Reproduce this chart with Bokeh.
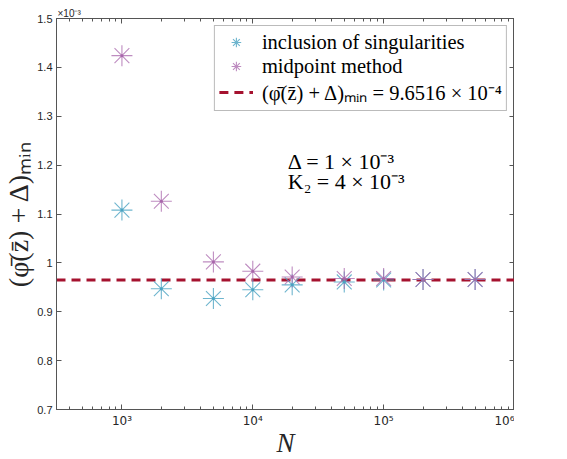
import numpy as np
from bokeh.plotting import figure
from bokeh.models import (LogAxis, LinearAxis, FixedTicker, Label, Title,
                          Legend, LegendItem, Range1d)
from bokeh.embed import file_html
from bokeh.resources import INLINE

# ---- data (values in units of 1e-3) ----
N = [1e3, 2e3, 5e3, 1e4, 2e4, 5e4, 1e5, 2e5, 5e5]
inclusion = [1.108, 0.947, 0.927, 0.945, 0.955, 0.961, 0.965, 0.966, 0.966]
midpoint = [1.424, 1.126, 1.002, 0.983, 0.971, 0.968, 0.968, 0.966, 0.966]
phi_min = 0.96516

x_limits = [10 ** 2.5, 1e6]
y_limits = [0.7, 1.5]
y_ticks = [0.7, 0.8, 0.9, 1.0, 1.1, 1.2, 1.3, 1.4, 1.5]
y_tick_labels = ["0.7", "0.8", "0.9", "1", "1.1", "1.2", "1.3", "1.4", "1.5"]
x_ticks = [1e3, 1e4, 1e5, 1e6]
x_tick_labels = ["10\u00b3", "10\u2074", "10\u2075", "10\u2076"]
x_minor = [m * 10 ** e for e in range(2, 6) for m in range(2, 10)]

legend_labels = ["inclusion of singularities", "midpoint method",
                 "(\u03c6\u0304(z\u0304) + \u0394)\u2098\u1d62\u2099 = 9.6516 \u00d7 10\u207b\u2074"]
y_label = "(\u03c6\u0304(z\u0304) + \u0394)\u2098\u1d62\u2099"
x_label = "N"
annot1 = "\u0394 = 1 \u00d7 10\u207b\u00b3"
annot2 = "K\u2082 = 4 \u00d7 10\u207b\u00b3"
scale_label = "\u00d710\u207b\u00b3"

CYAN = "#4aa3c2"
MAGENTA = "#a866ab"
DARKRED = "#a5122f"
AXCOL = "#555555"
TXT = "#262626"

p = figure(frame_width=458, frame_height=391,
           x_axis_type="log", output_backend="svg", toolbar_location=None,
           x_range=Range1d(*x_limits), y_range=Range1d(*y_limits),
           min_border_left=49, min_border_top=0, min_border_right=0, min_border_bottom=0,
           margin=(5, 0, 0, 0))
p.background_fill_color = "white"
p.border_fill_color = "white"
p.outline_line_color = AXCOL
p.xgrid.visible = False
p.ygrid.visible = False

r_line = p.line(x_limits, [phi_min, phi_min], line_color=DARKRED, line_width=3,
                line_dash="9 6")
r_inc = p.scatter(N, inclusion, marker="asterisk", size=21, line_color=CYAN,
                  line_width=1.1, line_alpha=0.8)
r_mid = p.scatter(N, midpoint, marker="asterisk", size=21, line_color=MAGENTA,
                  line_width=1.1, line_alpha=0.75)
p.scatter(N, inclusion, marker="circle", size=3, fill_color=CYAN, line_color=None)
p.scatter(N, midpoint, marker="circle", size=3, fill_color=MAGENTA, line_color=None)

def style_axis(ax):
    ax.axis_line_color = AXCOL
    ax.major_tick_line_color = AXCOL
    ax.minor_tick_line_color = AXCOL
    ax.major_tick_in = 5
    ax.major_tick_out = 0
    ax.minor_tick_in = 3
    ax.minor_tick_out = 0
    ax.major_label_text_font = "Liberation Sans"
    ax.major_label_text_font_size = "11px"
    ax.major_label_text_color = TXT

# bottom axis
xa = p.xaxis[0]
xa.ticker = FixedTicker(ticks=x_ticks, minor_ticks=x_minor)
xa.major_label_overrides = dict(zip(x_ticks, x_tick_labels))
style_axis(xa)
xa.major_label_text_font = "DejaVu Sans"
xa.major_label_text_font_size = "12px"
xa.major_label_standoff = 4
xa.axis_label = x_label
xa.axis_label_text_font = "Liberation Serif"
xa.axis_label_text_font_style = "italic"
xa.axis_label_text_font_size = "27px"
xa.axis_label_text_line_height = 1.0
xa.axis_label_text_color = TXT
xa.axis_label_standoff = -3

# left axis
ya = p.yaxis[0]
ya.ticker = FixedTicker(ticks=y_ticks)
ya.major_label_overrides = dict(zip(y_ticks, y_tick_labels))
style_axis(ya)
ya.minor_tick_line_color = None
ya.major_label_standoff = 4
ya.axis_label = y_label
ya.axis_label_text_font = "Liberation Serif"
ya.axis_label_text_font_style = "normal"
ya.axis_label_text_font_size = "28px"
ya.axis_label_text_color = TXT
ya.axis_label_standoff = 0

# top and right axes (ticks only)
top = LogAxis(ticker=FixedTicker(ticks=x_ticks, minor_ticks=x_minor),
              major_label_overrides={t: "" for t in x_ticks})
style_axis(top)
top.major_label_standoff = 0
p.add_layout(top, "above")
right = LinearAxis(ticker=FixedTicker(ticks=y_ticks),
                   major_label_overrides={t: "" for t in y_ticks})
style_axis(right)
right.minor_tick_line_color = None
right.major_label_standoff = 0
p.add_layout(right, "right")

# scale factor label above the axes
p.add_layout(Title(text=scale_label, align="left", text_font="Liberation Sans",
                   text_font_size="10px", text_font_style="normal", text_color=TXT,
                   offset=1, standoff=0), "above")

# annotations
p.add_layout(Label(x=1.85e4, y=1.2, text=annot1, x_offset=0, y_offset=4,
                   text_font="Liberation Serif", text_font_size="22px", text_color="black",
                   text_align="left", text_baseline="middle"))
p.add_layout(Label(x=1.85e4, y=1.2, text=annot2, x_offset=0, y_offset=-16,
                   text_font="Liberation Serif", text_font_size="22px", text_color="black",
                   text_align="left", text_baseline="middle"))

legend = Legend(items=[LegendItem(label=legend_labels[0], renderers=[r_inc]),
                       LegendItem(label=legend_labels[1], renderers=[r_mid]),
                       LegendItem(label=legend_labels[2], renderers=[r_line])],
                location="top_right", margin=7, padding=4, spacing=0,
                label_text_font="Liberation Serif", label_text_font_size="20.5px",
                label_text_color="black", glyph_width=34, glyph_height=24,
                label_height=24, label_standoff=9, border_line_color="#777777",
                border_line_width=1, background_fill_alpha=1.0)
p.add_layout(legend, "center")

open("out.html", "w").write(file_html(p, INLINE))
